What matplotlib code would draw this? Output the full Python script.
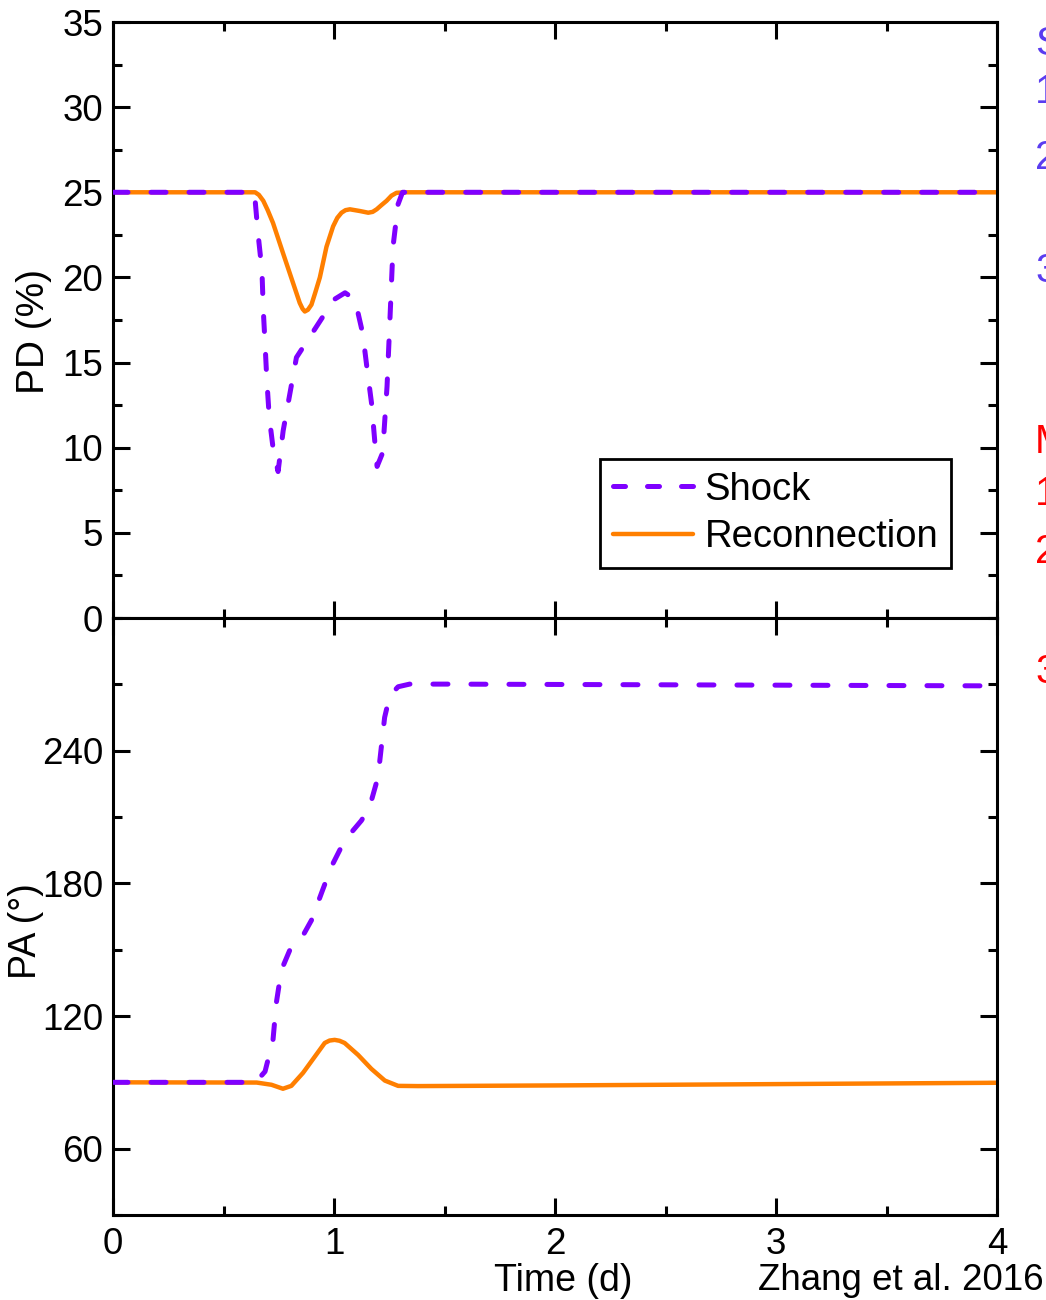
import numpy as np
import matplotlib
matplotlib.use("Agg")
import matplotlib.pyplot as plt
from matplotlib.ticker import MultipleLocator, FixedLocator
from matplotlib.lines import Line2D

plt.rcParams["font.family"] = ["Liberation Sans", "DejaVu Sans"]

SHOCK_COLOR = "#7f00ff"
RECON_COLOR = "#ff7f00"

# polarization degree (top panel)
t_pd_shock = [0, 0.64, 0.656, 0.674, 0.68, 0.688, 0.696, 0.707, 0.725, 0.747,
              0.77, 0.83, 0.91, 1.0, 1.05, 1.095, 1.13, 1.15, 1.17, 1.185,
              1.195, 1.22, 1.24, 1.253, 1.267, 1.29, 1.31, 4.0]
pd_shock = [25, 25, 22.6, 20.4, 18.1, 16.1, 14.0, 11.8, 9.9, 8.6,
            11.0, 15.3, 16.9, 18.7, 19.1, 18.7, 16.7, 14.6, 12.6, 10.3,
            8.9, 9.7, 13.6, 17.5, 21.8, 24.3, 25, 25]

t_pd_recon = [0, 0.643, 0.66, 0.68, 0.70, 0.724, 0.77, 0.814, 0.845, 0.858,
              0.868, 0.882, 0.898, 0.915, 0.936, 0.966, 0.996, 1.015, 1.034,
              1.052, 1.072, 1.117, 1.155, 1.175, 1.193, 1.215, 1.238, 1.26,
              1.283, 1.328, 4.0]
pd_recon = [25, 25, 24.85, 24.5, 23.95, 23.2, 21.4, 19.7, 18.5, 18.15,
            18.0, 18.1, 18.4, 19.1, 20.0, 21.8, 23.0, 23.5, 23.8,
            23.95, 24.0, 23.9, 23.8, 23.85, 24.0, 24.25, 24.5, 24.8,
            24.97, 25, 25]

# polarization angle (bottom panel)
t_pa_shock = [0, 0.645, 0.688, 0.724, 0.739, 0.762, 0.8, 0.853, 0.898, 0.943,
              0.988, 1.048, 1.124, 1.161, 1.199, 1.214, 1.229, 1.252, 1.29,
              1.342, 1.515, 4.0]
pa_shock = [90, 90, 94.9, 109.2, 125.9, 140.8, 149.8, 155.2, 163.3, 175.5,
            187.5, 199.4, 208.4, 214.5, 228.0, 241.5, 255.0, 264.8, 268.9,
            270.1, 270.1, 269.3]

t_pa_recon = [0, 0.65, 0.717, 0.769, 0.807, 0.86, 0.913, 0.958, 0.98, 1.003,
              1.025, 1.048, 1.109, 1.169, 1.23, 1.29, 1.38, 2.0, 3.0, 4.0]
pa_recon = [90, 89.9, 88.9, 87.1, 88.4, 94.3, 101.6, 107.8, 108.9, 109.2,
            108.8, 107.8, 102.4, 96.1, 90.8, 88.4, 88.3, 88.6, 89.2, 89.8]

series_labels = ["Shock", "Reconnection"]

# notes on the right edge, cut off by the figure border (text, colour, baseline px)
side_notes = [("Shock:", "#5a3cf0", 55), ("1.", "#5a3cf0", 103), ("2.", "#5a3cf0", 169),
              ("3.", "#5a3cf0", 282), ("Magnetic reconnection:", "#ff0000", 453),
              ("1.", "#ff0000", 505), ("2.", "#ff0000", 563), ("3.", "#ff0000", 683)]

W, H = 1046, 1300
fig = plt.figure(figsize=(W / 100, H / 100), dpi=100)

left = 113 / W
width = (997 - 113) / W
ax1 = fig.add_axes([left, 1 - 618 / H, width, (618 - 22) / H])
ax2 = fig.add_axes([left, 1 - 1215 / H, width, (1215 - 618) / H])

shock_kw = dict(color=SHOCK_COLOR, lw=3.6, dashes=(3.0, 4.6),
                dash_capstyle="round", zorder=3)
recon_kw = dict(color=RECON_COLOR, lw=3.2, solid_capstyle="round",
                solid_joinstyle="round", zorder=2)

ax1.plot(t_pd_recon, pd_recon, **recon_kw)
ax1.plot(t_pd_shock, pd_shock, **shock_kw)
ax2.plot(t_pa_recon, pa_recon, **recon_kw)
ax2.plot(t_pa_shock, pa_shock, **shock_kw)

ax1.set_xlim(0, 4)
ax1.set_ylim(0, 35)
ax2.set_xlim(0, 4)
ax2.set_ylim(30, 300)

ax1.xaxis.set_major_locator(MultipleLocator(1))
ax1.xaxis.set_minor_locator(MultipleLocator(0.5))
ax1.yaxis.set_major_locator(MultipleLocator(5))
ax1.yaxis.set_minor_locator(MultipleLocator(2.5))
ax1.set_xticklabels([])

ax2.xaxis.set_major_locator(MultipleLocator(1))
ax2.xaxis.set_minor_locator(MultipleLocator(0.5))
ax2.yaxis.set_major_locator(FixedLocator([60, 120, 180, 240]))
ax2.yaxis.set_minor_locator(FixedLocator([30, 90, 150, 210, 270, 300]))

for ax in (ax1, ax2):
    for sp in ax.spines.values():
        sp.set_linewidth(2.2)
    ax.tick_params(which="both", direction="in", top=True, right=True,
                   width=2.2, labelsize=26.5)
    ax.tick_params(which="major", length=12.5, pad=7)
    ax.tick_params(which="minor", length=6.5)
ax2.tick_params(axis="x", which="major", pad=9)

ax1.set_ylabel("PD (%)", fontsize=28)
ax1.yaxis.set_label_coords(-0.069, 0.48)
ax2.set_ylabel("PA (°)", fontsize=27)
ax2.yaxis.set_label_coords(-0.078, 0.475)

fig.text(563 / W, 1 - 1281 / H, "Time (d)", fontsize=27, ha="center", va="center")
fig.text(1044 / W, 1 - 1280 / H, "Zhang et al. 2016", fontsize=26.5,
         ha="right", va="center")

# legend handle for the dashed line gets its own dash pattern so three whole dashes fit
leg_shock_kw = dict(shock_kw, dashes=(2.4, 4.4))
handles = [Line2D([], [], **leg_shock_kw), Line2D([], [], **recon_kw)]
leg = ax1.legend(handles, series_labels, loc="upper right",
                 bbox_to_anchor=((951 - 113) / 884, (618 - 459) / 596),
                 borderaxespad=0, fontsize=27.5, handlelength=2.1,
                 handletextpad=0.3, labelspacing=0.3, borderpad=0.33,
                 fancybox=False, framealpha=1, edgecolor="black")
leg.get_frame().set_linewidth(2.0)

for txt, col, ypx in side_notes:
    fig.text(1035 / W, 1 - ypx / H, txt, color=col, fontsize=29,
             ha="left", va="baseline")

fig.savefig("out.png", dpi=100)
